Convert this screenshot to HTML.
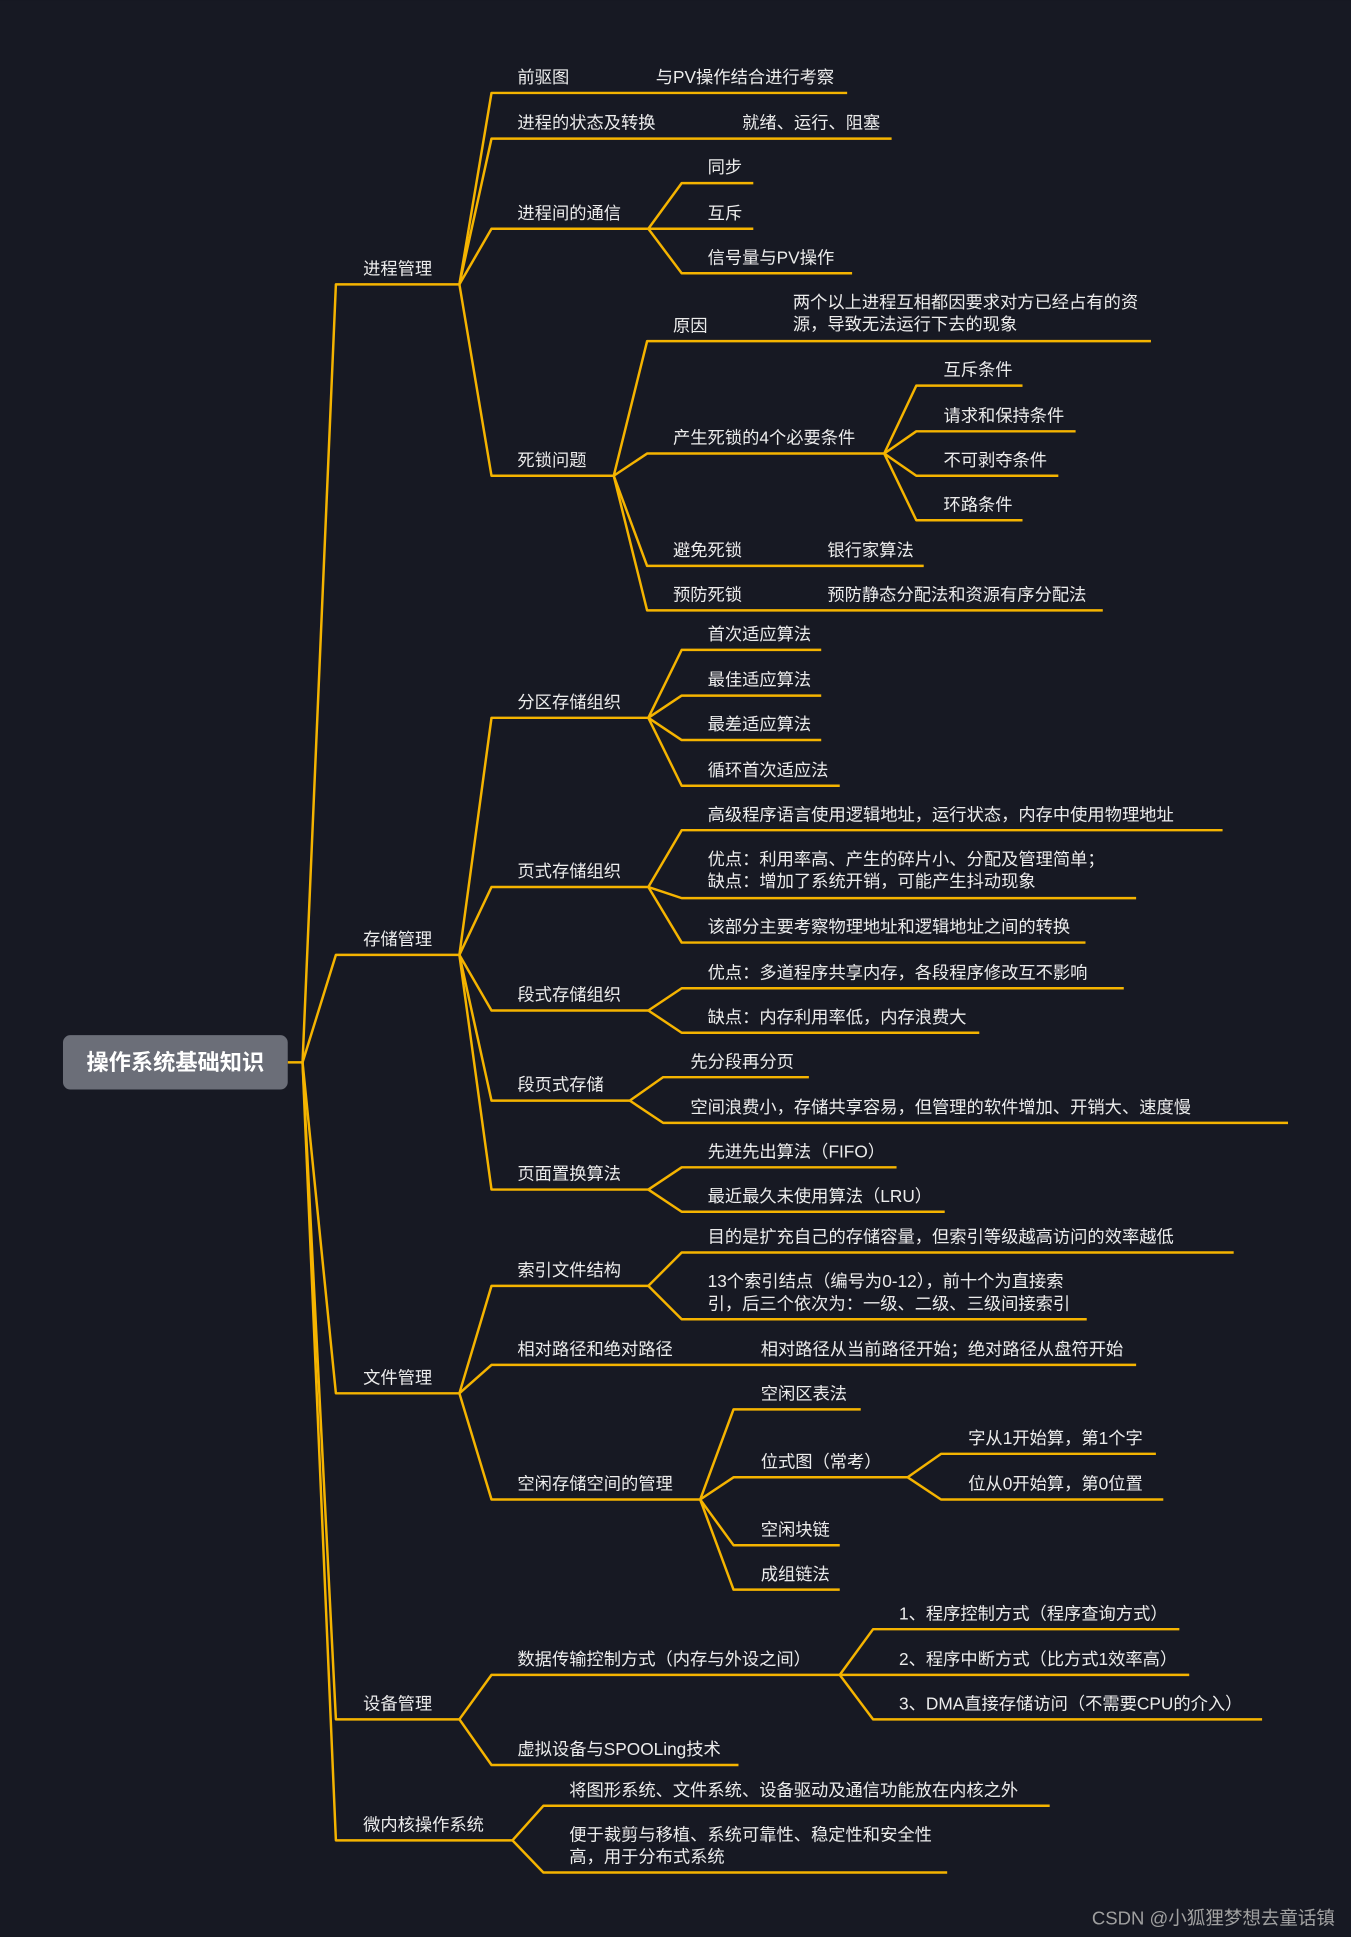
<!DOCTYPE html>
<html><head><meta charset="utf-8"><style>
html,body{margin:0;padding:0;background:#171923;}
svg{display:block}
text{font-family:"Liberation Sans","Noto Sans CJK SC",sans-serif;font-size:14px;fill:#ececec}
polyline{fill:none;stroke:#f5b400;stroke-width:2;stroke-linejoin:round}
</style></head><body>
<svg width="1351" height="1937" viewBox="0 0 1094 1568" xmlns="http://www.w3.org/2000/svg">
<rect width="1094" height="1568" fill="#171923"/>
<polyline points="233,860 245,860"/>
<polyline points="245,860 272,230 372,230"/>
<polyline points="245,860 272,773 372,773"/>
<polyline points="245,860 272,1128 372,1128"/>
<polyline points="245,860 272,1392 372,1392"/>
<polyline points="245,860 272,1490 415,1490"/>
<rect x="51" y="838" width="182" height="44" rx="6" fill="#6b6e78"/>
<text x="142" y="866" text-anchor="middle" style="font-size:18px;font-weight:bold;fill:#fff">操作系统基础知识</text>
<text x="294" y="222">进程管理</text>
<text x="294" y="765">存储管理</text>
<text x="294" y="1120">文件管理</text>
<text x="294" y="1384">设备管理</text>
<text x="294" y="1482">微内核操作系统</text>

<polyline points="372,230 398,75 686,75"/>
<polyline points="372,230 398,112 722,112"/>
<polyline points="372,230 398,185 525,185"/>
<polyline points="372,230 398,385 497,385"/>
<text x="419" y="67">前驱图</text><text x="531" y="67">与PV操作结合进行考察</text>
<text x="419" y="104">进程的状态及转换</text><text x="601" y="104">就绪、运行、阻塞</text>
<text x="419" y="177">进程间的通信</text>
<polyline points="525,185 552,148 610,148"/>
<polyline points="525,185 552,185 610,185"/>
<polyline points="525,185 552,221 690,221"/>
<text x="573" y="140">同步</text><text x="573" y="177">互斥</text><text x="573" y="213">信号量与PV操作</text>
<text x="419" y="377">死锁问题</text>
<polyline points="497,385 524,276 932,276"/>
<polyline points="497,385 524,367 716,367"/>
<polyline points="497,385 524,458 748,458"/>
<polyline points="497,385 524,494 893,494"/>
<text x="545" y="268">原因</text>
<text x="642" y="249">两个以上进程互相都因要求对方已经占有的资</text>
<text x="642" y="267">源，导致无法运行下去的现象</text>
<text x="545" y="359">产生死锁的4个必要条件</text>
<polyline points="716,367 742,312 828,312"/>
<polyline points="716,367 742,349 871,349"/>
<polyline points="716,367 742,385 857,385"/>
<polyline points="716,367 742,421 828,421"/>
<text x="764" y="304">互斥条件</text><text x="764" y="341">请求和保持条件</text>
<text x="764" y="377">不可剥夺条件</text><text x="764" y="413">环路条件</text>
<text x="545" y="450">避免死锁</text><text x="670" y="450">银行家算法</text>
<text x="545" y="486">预防死锁</text><text x="670" y="486">预防静态分配法和资源有序分配法</text>

<polyline points="372,773 398,581 525,581"/>
<polyline points="372,773 398,718 525,718"/>
<polyline points="372,773 398,818 525,818"/>
<polyline points="372,773 398,891 510,891"/>
<polyline points="372,773 398,963 525,963"/>
<text x="419" y="573">分区存储组织</text>
<polyline points="525,581 552,526 665,526"/>
<polyline points="525,581 552,563 665,563"/>
<polyline points="525,581 552,599 665,599"/>
<polyline points="525,581 552,636 680,636"/>
<text x="573" y="518">首次适应算法</text><text x="573" y="555">最佳适应算法</text>
<text x="573" y="591">最差适应算法</text><text x="573" y="628">循环首次适应法</text>
<text x="419" y="710">页式存储组织</text>
<polyline points="525,718 552,672 990,672"/>
<polyline points="525,718 552,727 920,727"/>
<polyline points="525,718 552,763 879,763"/>
<text x="573" y="664">高级程序语言使用逻辑地址，运行状态，内存中使用物理地址</text>
<text x="573" y="700">优点：利用率高、产生的碎片小、分配及管理简单；</text>
<text x="573" y="718">缺点：增加了系统开销，可能产生抖动现象</text>
<text x="573" y="755">该部分主要考察物理地址和逻辑地址之间的转换</text>
<text x="419" y="810">段式存储组织</text>
<polyline points="525,818 552,800 910,800"/>
<polyline points="525,818 552,836 793,836"/>
<text x="573" y="792">优点：多道程序共享内存，各段程序修改互不影响</text>
<text x="573" y="828">缺点：内存利用率低，内存浪费大</text>
<text x="419" y="883">段页式存储</text>
<polyline points="510,891 537,872 655,872"/>
<polyline points="510,891 537,909 1043,909"/>
<text x="559" y="864">先分段再分页</text>
<text x="559" y="901">空间浪费小，存储共享容易，但管理的软件增加、开销大、速度慢</text>
<text x="419" y="955">页面置换算法</text>
<polyline points="525,963 552,945 726,945"/>
<polyline points="525,963 552,981 765,981"/>
<text x="573" y="937">先进先出算法（FIFO）</text>
<text x="573" y="973">最近最久未使用算法（LRU）</text>

<polyline points="372,1128 398,1041 525,1041"/>
<polyline points="372,1128 398,1105 920,1105"/>
<polyline points="372,1128 398,1214 567,1214"/>
<text x="419" y="1033">索引文件结构</text>
<polyline points="525,1041 552,1014 999,1014"/>
<polyline points="525,1041 552,1068 880,1068"/>
<text x="573" y="1006">目的是扩充自己的存储容量，但索引等级越高访问的效率越低</text>
<text x="573" y="1042">13个索引结点（编号为0-12），前十个为直接索</text>
<text x="573" y="1060">引，后三个依次为：一级、二级、三级间接索引</text>
<text x="419" y="1097">相对路径和绝对路径</text>
<text x="616" y="1097">相对路径从当前路径开始；绝对路径从盘符开始</text>
<text x="419" y="1206">空闲存储空间的管理</text>
<polyline points="567,1214 594,1141 697,1141"/>
<polyline points="567,1214 594,1196 735,1196"/>
<polyline points="567,1214 594,1251 680,1251"/>
<polyline points="567,1214 594,1287 680,1287"/>
<text x="616" y="1133">空闲区表法</text>
<text x="616" y="1188">位式图（常考）</text>
<polyline points="735,1196 762,1177 936,1177"/>
<polyline points="735,1196 762,1214 942,1214"/>
<text x="784" y="1169">字从1开始算，第1个字</text>
<text x="784" y="1206">位从0开始算，第0位置</text>
<text x="616" y="1243">空闲块链</text>
<text x="616" y="1279">成组链法</text>

<polyline points="372,1392 398,1356 680,1356"/>
<polyline points="372,1392 398,1429 598,1429"/>
<text x="419" y="1348">数据传输控制方式（内存与外设之间）</text>
<polyline points="680,1356 707,1319 955,1319"/>
<polyline points="680,1356 707,1356 963,1356"/>
<polyline points="680,1356 707,1392 1022,1392"/>
<text x="728" y="1311">1、程序控制方式（程序查询方式）</text>
<text x="728" y="1348">2、程序中断方式（比方式1效率高）</text>
<text x="728" y="1384">3、DMA直接存储访问（不需要CPU的介入）</text>
<text x="419" y="1421">虚拟设备与SPOOLing技术</text>

<polyline points="415,1490 440,1462 850,1462"/>
<polyline points="415,1490 440,1516 767,1516"/>
<text x="461" y="1454">将图形系统、文件系统、设备驱动及通信功能放在内核之外</text>
<text x="461" y="1490">便于裁剪与移植、系统可靠性、稳定性和安全性</text>
<text x="461" y="1508">高，用于分布式系统</text>

<text x="1081" y="1558" text-anchor="end" style="fill:#a0a0a0;font-size:15px">CSDN @小狐狸梦想去童话镇</text>
</svg>
</body></html>
